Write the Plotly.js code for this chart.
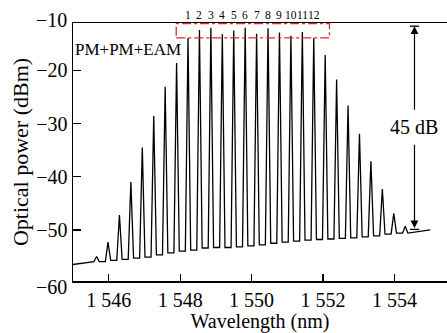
<!DOCTYPE html>
<html>
<head>
<meta charset="utf-8">
<script src="https://cdn.plot.ly/plotly-3.0.1.min.js"></script>
<style>html,body{margin:0;padding:0;background:#fff;}#chart{width:447px;height:333px;}</style>
</head>
<body>
<div id="chart"></div>
<script>
// Comb line centre wavelengths (nm)
const peakWavelength = [1545.66, 1545.98, 1546.30, 1546.62, 1546.94, 1547.26, 1547.58, 1547.90,
  1548.22, 1548.54, 1548.86, 1549.18, 1549.50, 1549.82, 1550.14, 1550.46, 1550.78, 1551.10,
  1551.42, 1551.74, 1552.06, 1552.38, 1552.70, 1553.02, 1553.34, 1553.66, 1553.98, 1554.30];
// Peak power of each comb line (dBm)
const peakPower = [-55.0, -52.3, -47.2, -41.0, -34.5, -28.6, -23.1, -18.6,
  -13.9, -12.4, -12.0, -13.2, -12.5, -12.0, -13.1, -12.1, -12.9, -13.5,
  -12.8, -13.9, -17.1, -21.7, -26.6, -31.9, -37.1, -42.3, -46.9, -49.3];
// Floor level between consecutive comb lines (dBm)
const troughPower = [-55.95, -55.74, -55.54, -55.3, -55.1, -54.7, -54.3, -54.0, -53.8,
  -53.4, -53.3, -53.3, -53.2, -53.0, -52.8, -52.5, -52.3, -52.1, -51.9, -51.8,
  -51.7, -51.6, -51.5, -51.3, -51.1, -50.8, -50.6];
// Spectrum ends
const edgeWavelength = [1545.0, 1555.0];
const edgePower = [-56.5, -50.0];
// Channel labels over lines 1..12
const channelLabels = ['1','2','3','4','5','6','7','8','9','10','11','12'];
const firstChannelIndex = 8;
// Axis ticks
const xTickVals = [1546, 1548, 1550, 1552, 1554];
const xTickText = ['1 546', '1 548', '1 550', '1 552', '1 554'];
const yTickVals = [-50, -40, -30, -20];
const yEndLabels = [-10, -60];
// Annotation values
const boxWl = [1547.89, 1552.18];
const boxPower = [-13.9, -11.2];
const arrowWl = 1554.56;
const arrowPower = [-11.7, -49.7];
const rangeText = '45 dB';

const yRange = [-59.6, -11.1];
const halfWidth = 0.075;
const xs = [edgeWavelength[0]], ys = [edgePower[0]];
for (let i = 0; i < peakWavelength.length; i++) {
  const left = troughPower[Math.max(i - 1, 0)];
  const right = troughPower[Math.min(i, troughPower.length - 1)];
  xs.push(peakWavelength[i] - halfWidth, peakWavelength[i], peakWavelength[i] + halfWidth);
  ys.push(left, peakPower[i], right);
}
xs.push(edgeWavelength[1]); ys.push(edgePower[1]);

const FONT = 'Liberation Serif';
const TS = 20;

const annotations = [];
channelLabels.forEach((t, k) => {
  annotations.push({x: peakWavelength[firstChannelIndex + k], y: 1, xref: 'x', yref: 'paper',
    yanchor: 'bottom', yshift: 1, text: t, showarrow: false, borderpad: 0,
    font: {family: FONT, size: 11.5, color: '#000'}});
});
annotations.push({x: 0, y: 0.898, xref: 'paper', yref: 'paper', xanchor: 'left', yanchor: 'middle',
  text: 'PM+PM+EAM', showarrow: false, font: {family: FONT, size: 17, color: '#000'}});
yEndLabels.forEach((v, k) => {
  const py = (v - yRange[0]) / (yRange[1] - yRange[0]);
  annotations.push({x: 0, y: py, xref: 'paper', yref: 'paper', xanchor: 'right', yanchor: 'middle',
    xshift: -4, yshift: k === 0 ? -3 : -4, text: '\u2212' + Math.abs(v), showarrow: false,
    font: {family: FONT, size: TS, color: '#000'}});
});
const midPower = (arrowPower[0] + arrowPower[1]) / 2;
annotations.push({x: arrowWl, y: arrowPower[0], xref: 'x', yref: 'y', ax: arrowWl, ay: midPower + 3,
  axref: 'x', ayref: 'y', text: '', showarrow: true, arrowhead: 2, arrowsize: 1.3, arrowwidth: 1.2,
  arrowcolor: '#000', standoff: 0, startstandoff: 0});
annotations.push({x: arrowWl, y: arrowPower[1], xref: 'x', yref: 'y', ax: arrowWl, ay: midPower - 3,
  axref: 'x', ayref: 'y', text: '', showarrow: true, arrowhead: 2, arrowsize: 1.3, arrowwidth: 1.2,
  arrowcolor: '#000', standoff: 0, startstandoff: 0});
annotations.push({x: arrowWl, y: midPower, xref: 'x', yref: 'y', text: rangeText, showarrow: false,
  bgcolor: '#fff', borderpad: 3, font: {family: FONT, size: TS, color: '#000'}});

const shapes = [
  {type: 'rect', xref: 'x', yref: 'y', x0: boxWl[0], x1: boxWl[1], y0: boxPower[0], y1: boxPower[1],
   line: {color: '#e5262a', width: 1.3, dash: 'dashdot'}},
  {type: 'line', xref: 'x', yref: 'y', x0: arrowWl - 0.13, x1: arrowWl + 0.13, y0: arrowPower[0], y1: arrowPower[0],
   line: {color: '#000', width: 1.3}},
  {type: 'line', xref: 'x', yref: 'y', x0: arrowWl - 0.13, x1: arrowWl + 0.13, y0: arrowPower[1] - 0.2, y1: arrowPower[1] - 0.2,
   line: {color: '#000', width: 1.3}}
];

const data = [{x: xs, y: ys, type: 'scatter', mode: 'lines', line: {color: '#000', width: 1.3}, hoverinfo: 'skip'}];

const layout = {
  width: 447, height: 333,
  margin: {l: 73, r: 0, t: 23, b: 52},
  paper_bgcolor: '#fff', plot_bgcolor: '#fff',
  showlegend: false,
  font: {family: FONT, size: TS, color: '#000'},
  xaxis: {range: [1545.0, 1555.47], tickvals: xTickVals, ticktext: xTickText, ticks: 'inside', ticklen: 7,
    tickwidth: 1.3, tickcolor: '#000', showline: true, mirror: true, linecolor: '#000', linewidth: 1.5,
    showgrid: false, zeroline: false, tickfont: {family: FONT, size: TS, color: '#000'},
    title: {text: 'Wavelength (nm)', font: {family: FONT, size: TS, color: '#000'}, standoff: 0}},
  yaxis: {range: yRange, tickvals: yTickVals, ticks: 'inside', ticklen: 8, tickwidth: 1.3,
    tickcolor: '#000', showline: true, mirror: false, linecolor: '#000', linewidth: 1.5,
    showgrid: false, zeroline: false, tickfont: {family: FONT, size: TS, color: '#000'},
    title: {text: 'Optical power (dBm)', font: {family: FONT, size: 22, color: '#000'}, standoff: 1}},
  annotations: annotations,
  shapes: shapes
};

Plotly.newPlot('chart', data, layout, {displayModeBar: false, staticPlot: true});
</script>
</body>
</html>
